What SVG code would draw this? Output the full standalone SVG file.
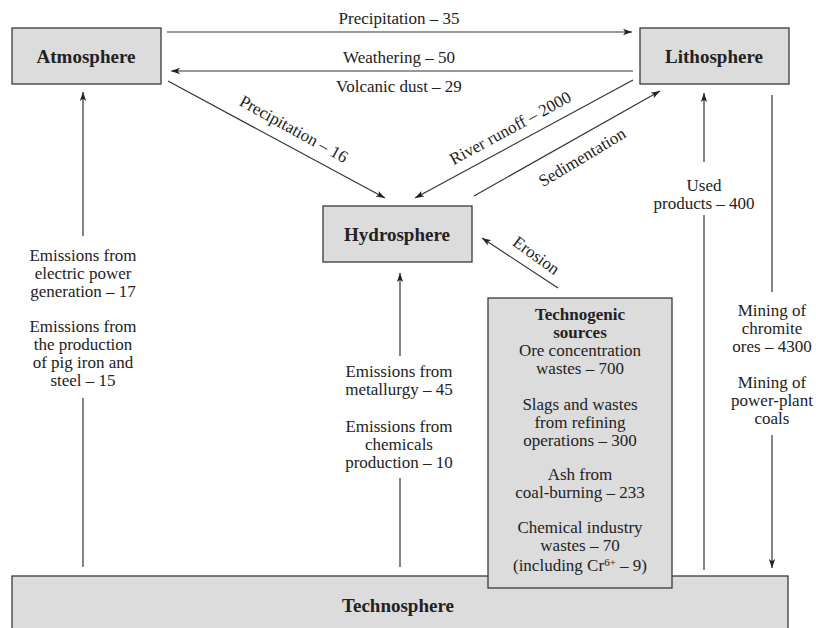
<svg xmlns="http://www.w3.org/2000/svg" width="816" height="628" viewBox="0 0 816 628">
<defs>
<style>
.box{fill:#dcdcdc;stroke:#3a3a3a;stroke-width:1.3}
.ln{stroke:#333;stroke-width:1.2;fill:none}
</style>
<marker id="ah" viewBox="0 0 10 10" refX="10" refY="5" markerWidth="9" markerHeight="9" markerUnits="userSpaceOnUse" orient="auto">
<path d="M0,1.5 L10,5 L0,8.5 L2.5,5 Z" fill="#222"/>
</marker>
</defs>
<rect width="816" height="628" fill="#fff"/>
<g id="connectors">
<line class="ln" x1="167" y1="32" x2="632" y2="32" marker-end="url(#ah)"/>
<line class="ln" x1="633" y1="71" x2="171" y2="71" marker-end="url(#ah)"/>
<line class="ln" x1="168" y1="81" x2="385" y2="198" marker-end="url(#ah)"/>
<line class="ln" x1="633" y1="80" x2="415" y2="198" marker-end="url(#ah)"/>
<line class="ln" x1="474" y1="196" x2="660" y2="91" marker-end="url(#ah)"/>
<line class="ln" x1="558" y1="288" x2="482" y2="238" marker-end="url(#ah)"/>
<line class="ln" x1="83" y1="567" x2="83" y2="398"/>
<line class="ln" x1="83" y1="236" x2="83" y2="92" marker-end="url(#ah)"/>
<line class="ln" x1="400" y1="567" x2="400" y2="478"/>
<line class="ln" x1="400" y1="356" x2="400" y2="273" marker-end="url(#ah)"/>
<line class="ln" x1="704" y1="570" x2="704" y2="215"/>
<line class="ln" x1="704" y1="162" x2="704" y2="93" marker-end="url(#ah)"/>
<line class="ln" x1="772" y1="95" x2="772" y2="292"/>
<line class="ln" x1="772" y1="435" x2="772" y2="568" marker-end="url(#ah)"/>

<text style="font-family:'Liberation Serif',serif;font-size:17px;fill:#222;text-anchor:middle" x="399" y="24">Precipitation – 35</text>
<text style="font-family:'Liberation Serif',serif;font-size:17px;fill:#222;text-anchor:middle" x="399" y="63">Weathering – 50</text>
<text style="font-family:'Liberation Serif',serif;font-size:17px;fill:#222;text-anchor:middle" x="399" y="92">Volcanic dust – 29</text>
<text style="font-family:'Liberation Serif',serif;font-size:17px;fill:#222;text-anchor:middle" transform="translate(291,134) rotate(29)">Precipitation – 16</text>
<text style="font-family:'Liberation Serif',serif;font-size:17px;fill:#222;text-anchor:middle" transform="translate(513,133) rotate(-28.5)">River runoff – 2000</text>
<text style="font-family:'Liberation Serif',serif;font-size:17px;fill:#222;text-anchor:middle" transform="translate(585,162) rotate(-31)">Sedimentation</text>
<text style="font-family:'Liberation Serif',serif;font-size:17px;fill:#222;text-anchor:middle" transform="translate(533,260) rotate(36)">Erosion</text>

<text style="font-family:'Liberation Serif',serif;font-size:17px;fill:#222;text-anchor:middle" x="83" y="261">Emissions from</text>
<text style="font-family:'Liberation Serif',serif;font-size:17px;fill:#222;text-anchor:middle" x="83" y="279">electric power</text>
<text style="font-family:'Liberation Serif',serif;font-size:17px;fill:#222;text-anchor:middle" x="83" y="297">generation – 17</text>
<text style="font-family:'Liberation Serif',serif;font-size:17px;fill:#222;text-anchor:middle" x="83" y="332">Emissions from</text>
<text style="font-family:'Liberation Serif',serif;font-size:17px;fill:#222;text-anchor:middle" x="83" y="350">the production</text>
<text style="font-family:'Liberation Serif',serif;font-size:17px;fill:#222;text-anchor:middle" x="83" y="368">of pig iron and</text>
<text style="font-family:'Liberation Serif',serif;font-size:17px;fill:#222;text-anchor:middle" x="83" y="386">steel – 15</text>

<text style="font-family:'Liberation Serif',serif;font-size:17px;fill:#222;text-anchor:middle" x="399" y="377">Emissions from</text>
<text style="font-family:'Liberation Serif',serif;font-size:17px;fill:#222;text-anchor:middle" x="399" y="395">metallurgy – 45</text>
<text style="font-family:'Liberation Serif',serif;font-size:17px;fill:#222;text-anchor:middle" x="399" y="432">Emissions from</text>
<text style="font-family:'Liberation Serif',serif;font-size:17px;fill:#222;text-anchor:middle" x="399" y="450">chemicals</text>
<text style="font-family:'Liberation Serif',serif;font-size:17px;fill:#222;text-anchor:middle" x="399" y="468">production – 10</text>

<text style="font-family:'Liberation Serif',serif;font-size:17px;fill:#222;text-anchor:middle" x="704" y="191">Used</text>
<text style="font-family:'Liberation Serif',serif;font-size:17px;fill:#222;text-anchor:middle" x="704" y="209">products – 400</text>

<text style="font-family:'Liberation Serif',serif;font-size:17px;fill:#222;text-anchor:middle" x="772" y="316">Mining of</text>
<text style="font-family:'Liberation Serif',serif;font-size:17px;fill:#222;text-anchor:middle" x="772" y="334">chromite</text>
<text style="font-family:'Liberation Serif',serif;font-size:17px;fill:#222;text-anchor:middle" x="772" y="352">ores – 4300</text>
<text style="font-family:'Liberation Serif',serif;font-size:17px;fill:#222;text-anchor:middle" x="772" y="388">Mining of</text>
<text style="font-family:'Liberation Serif',serif;font-size:17px;fill:#222;text-anchor:middle" x="772" y="406">power-plant</text>
<text style="font-family:'Liberation Serif',serif;font-size:17px;fill:#222;text-anchor:middle" x="772" y="424">coals</text>
</g>

<g id="technosphere">
<rect class="box" x="12" y="576" width="776" height="60"/>
<text style="font-family:'Liberation Serif',serif;font-size:19px;font-weight:bold;fill:#222;text-anchor:middle" x="398" y="612">Technosphere</text>
</g>
<g id="atmosphere">
<rect class="box" x="12" y="28" width="149" height="56"/>
<text style="font-family:'Liberation Serif',serif;font-size:19px;font-weight:bold;fill:#222;text-anchor:middle" x="86" y="63">Atmosphere</text>
</g>
<g id="lithosphere">
<rect class="box" x="640" y="28" width="149" height="56"/>
<text style="font-family:'Liberation Serif',serif;font-size:19px;font-weight:bold;fill:#222;text-anchor:middle" x="714" y="63">Lithosphere</text>
</g>
<g id="hydrosphere">
<rect class="box" x="323" y="206" width="149" height="56"/>
<text style="font-family:'Liberation Serif',serif;font-size:19px;font-weight:bold;fill:#222;text-anchor:middle" x="397" y="241">Hydrosphere</text>
</g>
<g id="technogenic">
<rect class="box" x="488" y="298" width="184" height="290"/>
<text style="font-family:'Liberation Serif',serif;font-size:17px;font-weight:bold;fill:#222;text-anchor:middle" x="580" y="320">Technogenic</text>
<text style="font-family:'Liberation Serif',serif;font-size:17px;font-weight:bold;fill:#222;text-anchor:middle" x="580" y="338">sources</text>
<text style="font-family:'Liberation Serif',serif;font-size:17px;fill:#222;text-anchor:middle" x="580" y="356">Ore concentration</text>
<text style="font-family:'Liberation Serif',serif;font-size:17px;fill:#222;text-anchor:middle" x="580" y="374">wastes – 700</text>
<text style="font-family:'Liberation Serif',serif;font-size:17px;fill:#222;text-anchor:middle" x="580" y="410">Slags and wastes</text>
<text style="font-family:'Liberation Serif',serif;font-size:17px;fill:#222;text-anchor:middle" x="580" y="428">from refining</text>
<text style="font-family:'Liberation Serif',serif;font-size:17px;fill:#222;text-anchor:middle" x="580" y="446">operations – 300</text>
<text style="font-family:'Liberation Serif',serif;font-size:17px;fill:#222;text-anchor:middle" x="580" y="480">Ash from</text>
<text style="font-family:'Liberation Serif',serif;font-size:17px;fill:#222;text-anchor:middle" x="580" y="498">coal-burning – 233</text>
<text style="font-family:'Liberation Serif',serif;font-size:17px;fill:#222;text-anchor:middle" x="580" y="533">Chemical industry</text>
<text style="font-family:'Liberation Serif',serif;font-size:17px;fill:#222;text-anchor:middle" x="580" y="551">wastes – 70</text>
<text style="font-family:'Liberation Serif',serif;font-size:17px;fill:#222;text-anchor:middle" x="580" y="571">(including Cr<tspan style="font-size:11px" dy="-5">6+</tspan><tspan dy="5"> – 9)</tspan></text>
</g>
</svg>
